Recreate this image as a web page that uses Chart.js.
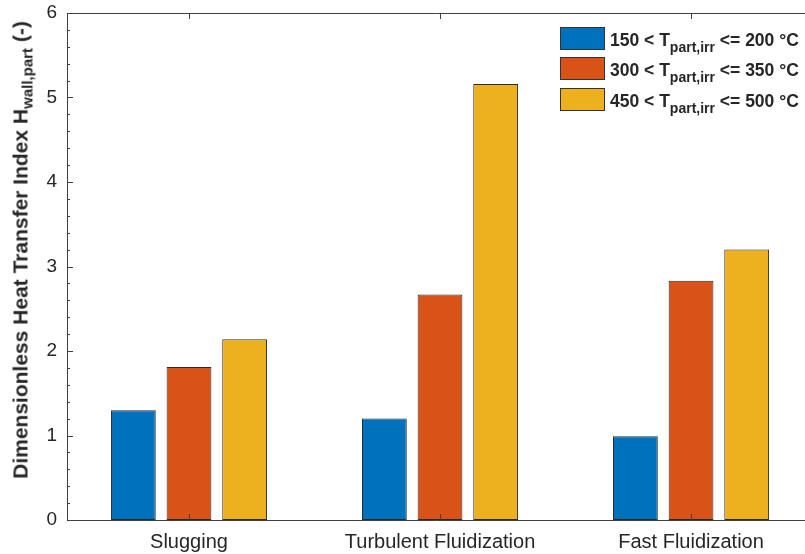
<!DOCTYPE html>
<html>
<head>
<meta charset="utf-8">
<script src="https://cdn.jsdelivr.net/npm/chart.js@4.4.1/dist/chart.umd.min.js"></script>
<style>
  html, body { margin: 0; padding: 0; background: #fff; overflow: hidden; }
  #wrap { position: relative; width: 805px; height: 554px; }
  #yTitle {
    position: absolute; left: 22px; top: 250px;
    transform: translate(-50%, -50%) rotate(-90deg);
    white-space: nowrap; color: #262626;
    font: bold 21px "Liberation Sans", Arial, sans-serif;
  }
  #yTitle sub { font-size: 15px; vertical-align: -5px; }
  #legend {
    position: absolute; left: 560px; top: 27px;
    font: bold 17.5px "Liberation Sans", Arial, sans-serif; color: #262626;
  }
  .row { display: flex; align-items: center; height: 30.5px; }
  .row .sw { width: 43px; height: 21px; border: 1px solid #333; margin-right: 5px; margin-top: -8px; }
  .row span.txt { white-space: nowrap; }
  .row sub { font-size: 14px; vertical-align: -6px; }
</style>
</head>
<body>
<div id="wrap">
  <canvas id="chart" width="805" height="554"></canvas>
  <div id="yTitle">Dimensionless Heat Transfer Index H<sub>wall,part</sub> (-)</div>
  <div id="legend"></div>
</div>
<script>
// categories on the x axis (placed at 1, 2, 3)
const categories = ['Slugging', 'Turbulent Fluidization', 'Fast Fluidization'];
const categoryPos = [1, 2, 3];

// temperature ranges for the legend
const tempLow = ['150', '300', '450'];
const tempHigh = ['200', '350', '500'];

// H_wall,part per temperature range
const range150 = [1.30, 1.20, 0.99];
const range300 = [1.81, 2.67, 2.83];
const range450 = [2.14, 5.16, 3.20];

const yTicks = [0, 1, 2, 3, 4, 5, 6];
const seriesColors = ['#0072BD', '#D95319', '#EDB120'];

const allSeries = [range150, range300, range450];

const datasets = allSeries.map((vals, i) => ({
  label: tempLow[i] + ' < Tpart,irr <= ' + tempHigh[i] + ' °C',
  data: vals.map((v, j) => ({ x: categoryPos[j], y: v })),
  backgroundColor: seriesColors[i],
  borderColor: '#2b2b2b',
  borderWidth: 1,
  borderSkipped: false,
  categoryPercentage: 0.665,
  barPercentage: 0.805
}));

// html legend with subscripts
const legendEl = document.getElementById('legend');
tempLow.forEach((lo, i) => {
  const row = document.createElement('div');
  row.className = 'row';
  row.innerHTML = '<div class="sw" style="background:' + seriesColors[i] + '"></div>' +
    '<span class="txt">' + lo + ' &lt; T<sub>part,irr</sub> &lt;= ' + tempHigh[i] + ' °C</span>';
  legendEl.appendChild(row);
});

// MATLAB-style box and inward ticks
const axesBox = {
  id: 'axesBox',
  afterDraw(chart) {
    const { ctx, chartArea: a, scales } = chart;
    const xs = scales.x, ys = scales.y;
    ctx.save();
    ctx.strokeStyle = '#404040';
    ctx.lineWidth = 1;
    ctx.beginPath();
    ctx.moveTo(a.left + 0.5, a.top + 0.5);
    ctx.lineTo(a.right + 2, a.top + 0.5);
    ctx.moveTo(a.left + 0.5, a.top);
    ctx.lineTo(a.left + 0.5, a.bottom + 0.5);
    ctx.lineTo(a.right + 2, a.bottom + 0.5);
    for (let v = 0; v <= 30; v++) {
      const y = Math.round(ys.getPixelForValue(v / 5)) + 0.5;
      const len = v % 5 === 0 ? 6 : 3;
      ctx.moveTo(a.left, y);
      ctx.lineTo(a.left + len, y);
    }
    categoryPos.forEach(p => {
      const x = Math.round(xs.getPixelForValue(p)) + 0.5;
      ctx.moveTo(x, a.bottom);
      ctx.lineTo(x, a.bottom - 6);
      ctx.moveTo(x, a.top);
      ctx.lineTo(x, a.top + 6);
    });
    ctx.stroke();
    ctx.restore();
  }
};

Chart.defaults.font.family = "'Liberation Sans', Arial, sans-serif";
Chart.defaults.color = '#262626';

new Chart(document.getElementById('chart'), {
  type: 'bar',
  data: { datasets },
  options: {
    responsive: false,
    animation: false,
    layout: { padding: { top: 13, left: 0, right: 0, bottom: 0 } },
    plugins: { legend: { display: false }, tooltip: { enabled: false } },
    scales: {
      x: {
        type: 'linear',
        offset: false,
        min: 0.514,
        max: 3.454,
        grid: { display: false, drawTicks: false, offset: false },
        border: { display: false },
        afterBuildTicks: s => { s.ticks = categoryPos.map(v => ({ value: v })); },
        afterFit: s => { s.height = 34; s.paddingLeft = 0; s.paddingRight = 0; },
        ticks: {
          font: { size: 20 },
          padding: 10,
          maxRotation: 0,
          callback: v => categories[categoryPos.indexOf(v)]
        }
      },
      y: {
        min: 0,
        max: 6,
        grid: { display: false, drawTicks: false },
        border: { display: false },
        afterBuildTicks: s => { s.ticks = yTicks.map(v => ({ value: v })); },
        afterFit: s => { s.width = 67; s.paddingTop = 0; s.paddingBottom = 0; },
        ticks: { font: { size: 19 }, padding: 10 }
      }
    }
  },
  plugins: [axesBox]
});
</script>
</body>
</html>
